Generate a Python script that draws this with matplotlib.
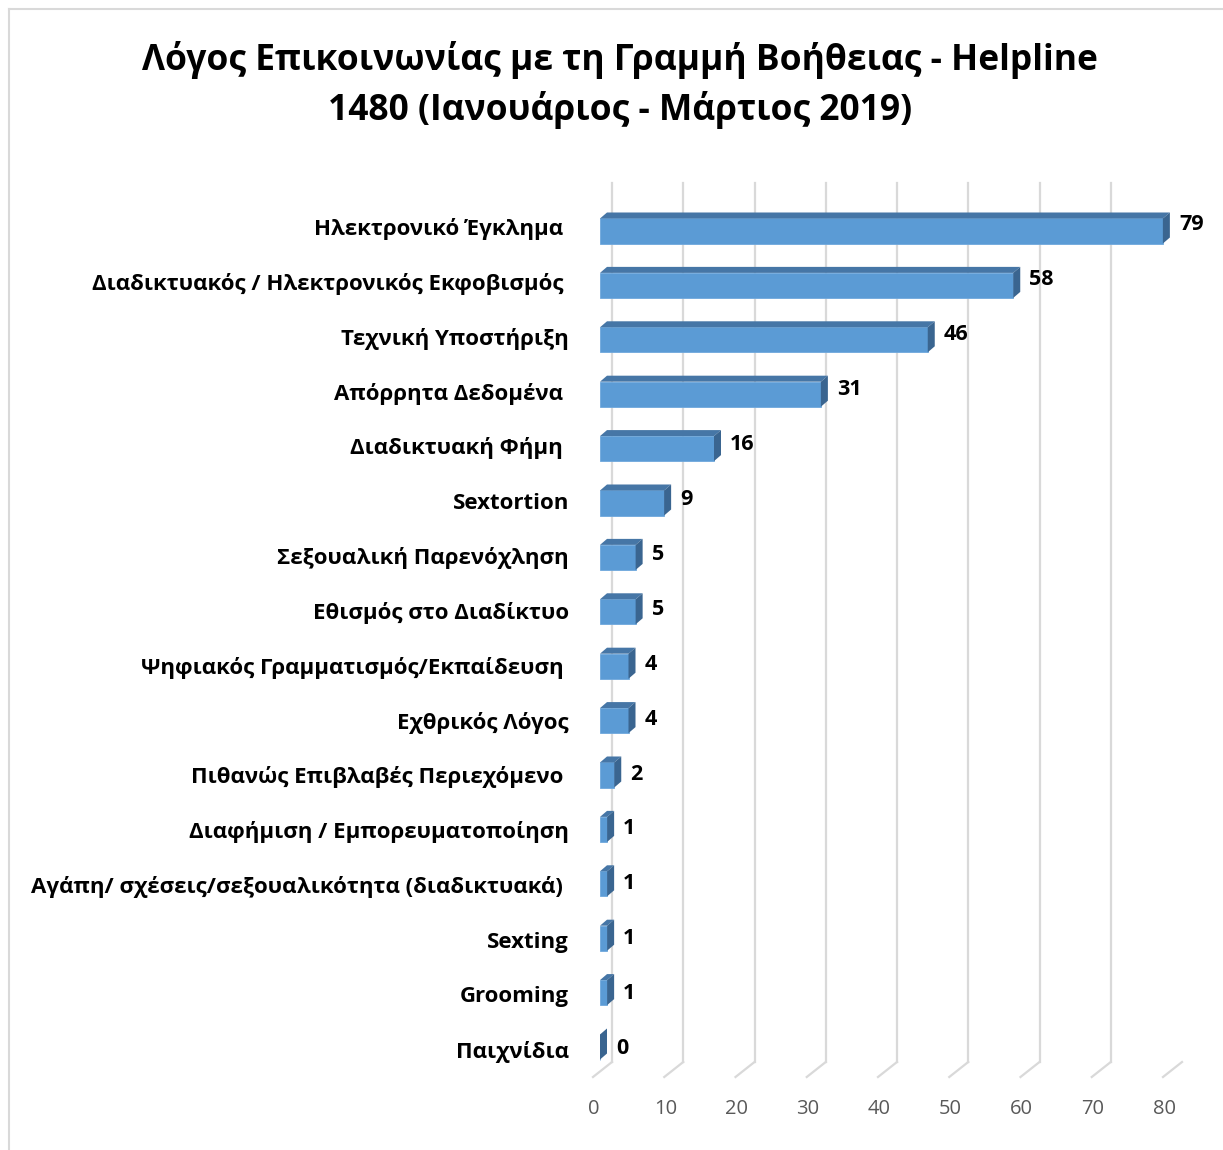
import matplotlib
matplotlib.use("Agg")
import matplotlib.pyplot as plt
import matplotlib.transforms as mtransforms
from matplotlib.patches import Polygon
import numpy as np

plt.rcParams['font.family'] = ['Open Sans', 'DejaVu Sans']

# data (top to bottom)
categories = [
    "Ηλεκτρονικό Έγκλημα ",
    "Διαδικτυακός / Ηλεκτρονικός Εκφοβισμός ",
    "Τεχνική Υποστήριξη",
    "Απόρρητα Δεδομένα ",
    "Διαδικτυακή Φήμη ",
    "Sextortion",
    "Σεξουαλική Παρενόχληση",
    "Εθισμός στο Διαδίκτυο",
    "Ψηφιακός Γραμματισμός/Εκπαίδευση ",
    "Εχθρικός Λόγος",
    "Πιθανώς Επιβλαβές Περιεχόμενο ",
    "Διαφήμιση / Εμπορευματοποίηση",
    "Αγάπη/ σχέσεις/σεξουαλικότητα (διαδικτυακά) ",
    "Sexting",
    "Grooming",
    "Παιχνίδια",
]
counts = [79, 58, 46, 31, 16, 9, 5, 5, 4, 4, 2, 1, 1, 1, 1, 0]
xticks = [0, 10, 20, 30, 40, 50, 60, 70, 80]
title = "Λόγος Επικοινωνίας με τη Γραμμή Βοήθειας - Helpline\n1480 (Ιανουάριος - Μάρτιος 2019)"

W, H = 1223, 1150
fig = plt.figure(figsize=(W / 100, H / 100), dpi=100)

# axes placed in pixel terms: x=0 at 600px, 7.125 px per unit; rows 54.4 px apart
x0_px, px_per_unit = 600, 7.125
row_px, first_row_px = 54.4, 231
n = len(categories)
ax_left = x0_px
ax_w = px_per_unit * 80
ax_top = first_row_px - row_px
ax_bot = first_row_px + row_px * n
ax = fig.add_axes([ax_left / W, 1 - ax_bot / H, ax_w / W, (ax_bot - ax_top) / H])
ax.set_xlim(0, 80)
ax.set_ylim(n, -1)
ax.axis("off")

ddx = 7 / px_per_unit     # depth of bars, in data units
ddy = 6 / row_px
bh = 0.46

def shifted(dx, dy):
    return mtransforms.offset_copy(ax.transData, fig=fig, x=dx, y=dy, units="dots")

# back wall gridlines + floor
y_top = (183 - first_row_px) / row_px
y_floor = (1062 - first_row_px) / row_px
back = shifted(12, 0)
front = shifted(-7, -15)
for t in xticks:
    ax.plot([t, t], [y_top, y_floor], color="#d9d9d9", lw=1.6, transform=back, zorder=0)
    p1 = back.transform((t, y_floor))
    p2 = front.transform((t, y_floor))
    fig.add_artist(plt.Line2D([p1[0] / W, p2[0] / W], [p1[1] / H, p2[1] / H],
                              color="#d9d9d9", lw=1.6))
    ax.text(t, y_floor, str(t), transform=shifted(-6, -47), ha="center", va="center",
            fontsize=14.5, color="#595959")

# bars with fake 3D faces
y = np.arange(n)
ax.barh(y, counts, height=bh, left=0, color="#5b9bd5", edgecolor="#6fa8dc", lw=0.6, zorder=2)
for i, v in enumerate(counts):
    top = [(0, i - bh / 2), (v, i - bh / 2), (v + ddx, i - bh / 2 - ddy), (ddx, i - bh / 2 - ddy)]
    side = [(v, i - bh / 2), (v, i + bh / 2), (v + ddx, i + bh / 2 - ddy), (v + ddx, i - bh / 2 - ddy)]
    ax.add_patch(Polygon(top, closed=True, fc="#4676a6", ec="none", zorder=3))
    ax.add_patch(Polygon(side, closed=True, fc="#3a6590", ec="none", zorder=3))
    # labels drift down slightly with depth, like the excel 3D view
    ax.text(v, i, str(v), transform=shifted(16, 6 - 0.5 * i), ha="left", va="center",
            fontsize=15.5, fontweight="bold", color="black")

for i, c in enumerate(categories):
    ax.text(0, i, c, transform=shifted(-31, 2 - 0.45 * i), ha="right", va="center",
            fontsize=16, fontweight="bold", color="black")

fig.text(620 / W, 1 - 85 / H, title, ha="center", va="center", fontsize=25.5,
         fontweight="bold", linespacing=1.4)

# chart frame (left and top edges visible)
fig.add_artist(plt.Line2D([9 / W, 9 / W], [0, 1 - 9 / H], color="#d9d9d9", lw=1.5))
fig.add_artist(plt.Line2D([9 / W, 1], [1 - 9 / H, 1 - 9 / H], color="#d9d9d9", lw=1.5))

fig.savefig("out.png", dpi=100)
